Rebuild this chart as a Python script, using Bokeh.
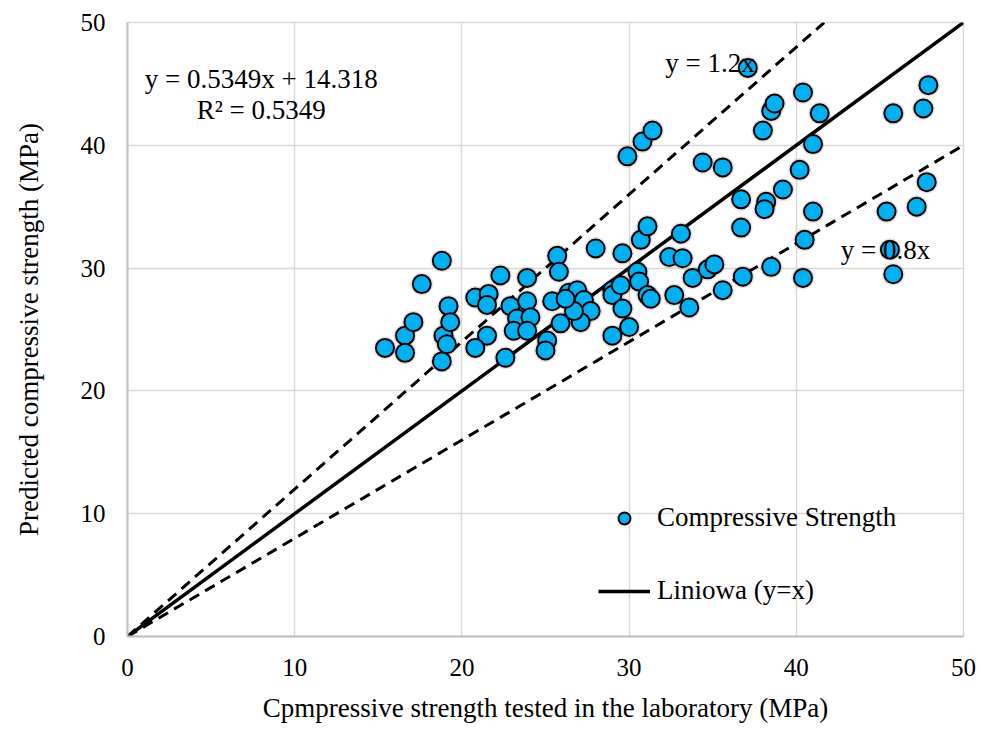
from bokeh.plotting import figure
from bokeh.models import Range1d, FixedTicker, Label, Legend, LegendItem
from bokeh.embed import file_html
from bokeh.resources import INLINE

# Data
lab_strength = [15.4, 16.6, 16.6, 17.1, 17.6, 18.8, 18.8, 18.9, 19.1, 19.2, 19.3,
                20.8, 21.6, 21.5, 22.3, 23.9, 22.9, 23.9, 23.3, 24.1, 23.1, 23.9,
                21.5, 20.8, 22.6, 25.4, 25.7, 25.8, 25.9, 25.1, 25.0, 26.4, 26.9,
                27.3, 27.7, 27.1, 26.7, 26.2, 29.0, 29.0, 29.5, 29.6, 29.0, 30.0,
                28.0, 29.6, 30.5, 30.6, 31.1, 31.3, 30.7, 31.1, 32.4, 33.2, 33.8,
                34.7, 35.1, 33.6, 32.7, 33.1, 35.6, 36.8, 38.5, 40.4, 40.5, 36.7,
                36.7, 38.2, 38.1, 39.2, 40.2, 41.0, 34.4, 35.6, 29.9, 30.8, 31.4,
                38.0, 38.5, 38.7, 40.4, 41.4, 37.1, 41.0, 45.4, 47.2, 47.8, 45.8,
                47.6, 47.9, 45.6, 45.8]
predicted = [23.5, 24.5, 23.1, 25.6, 28.7, 30.6, 22.4, 24.5, 23.8, 26.9, 25.6,
             27.6, 27.9, 27.0, 29.4, 29.2, 26.9, 27.3, 25.9, 26.0, 24.9, 24.9,
             24.5, 23.5, 22.7, 27.3, 31.0, 29.7, 25.5, 24.1, 23.3, 28.0, 28.2,
             27.4, 26.5, 25.6, 26.5, 27.5, 28.2, 27.8, 28.6, 26.7, 24.5, 25.2,
             31.6, 31.2, 29.7, 28.9, 27.8, 27.5, 32.3, 33.4, 30.9, 30.8, 29.2,
             29.9, 30.3, 26.8, 27.8, 32.8, 28.2, 29.3, 30.1, 29.2, 32.3, 33.3,
             35.6, 35.4, 34.8, 36.4, 38.0, 40.1, 38.6, 38.2, 39.1, 40.3, 41.2,
             41.2, 42.8, 43.4, 44.3, 42.6, 46.3, 34.6, 34.6, 35.0, 37.0, 42.6,
             43.0, 44.9, 31.5, 29.5]

axis_max = 50
ticks = [0, 10, 20, 30, 40, 50]
ref_slopes = [1.0, 1.2, 0.8]
ref_labels = ["Liniowa (y=x)", "y = 1.2x", "y = 0.8x"]

FONT = "Liberation Serif"

p = figure(width=982, height=733, output_backend="svg", toolbar_location=None,
           x_range=Range1d(0, axis_max), y_range=Range1d(0, axis_max),
           min_border_left=127, min_border_right=19, min_border_top=22,
           min_border_bottom=97)
p.background_fill_color = "white"
p.border_fill_color = "white"
p.outline_line_color = "#d9d9d9"
p.outline_line_width = 1.5

for ax in (p.xaxis, p.yaxis):
    ax.ticker = FixedTicker(ticks=ticks)
    ax.major_tick_line_color = None
    ax.minor_tick_line_color = None
    ax.major_tick_out = 0
    ax.axis_line_color = "#bfbfbf"
    ax.axis_line_width = 2
    ax.major_label_text_font = FONT
    ax.major_label_text_font_size = "25px"
    ax.major_label_text_color = "black"
    ax.axis_label_text_font = FONT
    ax.axis_label_text_font_size = "27px"
    ax.axis_label_text_font_style = "normal"
    ax.axis_label_text_color = "black"

p.xaxis.axis_label = "Cpmpressive strength tested in the laboratory (MPa)"
p.yaxis.axis_label = "Predicted compressive strength (MPa)"
p.xaxis.major_label_standoff = 22
p.xaxis.axis_label_standoff = 14
p.yaxis.major_label_standoff = 22
p.yaxis.axis_label_standoff = 34

for g in (p.xgrid, p.ygrid):
    g.grid_line_color = "#d9d9d9"
    g.grid_line_width = 1.5
    g.ticker = FixedTicker(ticks=ticks)

# reference lines
renderers = {}
for slope, lab in zip(ref_slopes, ref_labels):
    x_end = min(axis_max, axis_max / slope)
    xs = [0, x_end]
    ys = [0, slope * x_end]
    if slope == 1.0:
        r = p.line(xs, ys, line_color="black", line_width=3.5)
    else:
        r = p.line(xs, ys, line_color="black", line_width=3, line_dash="11 7")
    renderers[lab] = r

# soft shadow behind markers
p.scatter(lab_strength, predicted, size=23, marker="circle",
          fill_color="#000000", fill_alpha=0.10, line_color=None)
pts = p.scatter(lab_strength, predicted, size=18, marker="circle",
                fill_color="#00B0F0", line_color="black", line_width=2)

legend = Legend(items=[LegendItem(label="Compressive Strength", renderers=[pts]),
                       LegendItem(label="Liniowa (y=x)", renderers=[renderers["Liniowa (y=x)"]])],
                location=(471, 30))
legend.border_line_color = None
legend.background_fill_alpha = 0
legend.padding = 0
legend.margin = 0
legend.spacing = 42
legend.glyph_width = 52
legend.glyph_height = 30
legend.label_height = 30
legend.label_standoff = 7
legend.label_text_font = FONT
legend.label_text_font_size = "27px"
legend.label_text_color = "black"
legend.label_text_baseline = "middle"
p.add_layout(legend, "center")

def add_label(x, y, text, align="left"):
    p.add_layout(Label(x=x, y=y, text=text, text_font=FONT, text_font_size="27px",
                       text_color="black", text_align=align, text_baseline="alphabetic"))

add_label(8.0, 45.4, "y = 0.5349x + 14.318", "center")
add_label(8.0, 42.9, "R² = 0.5349", "center")
add_label(34.84, 46.7, "y = 1.2x", "center")
add_label(45.33, 31.5, "y = 0.8x", "center")

open("out.html", "w").write(file_html(p, INLINE))
